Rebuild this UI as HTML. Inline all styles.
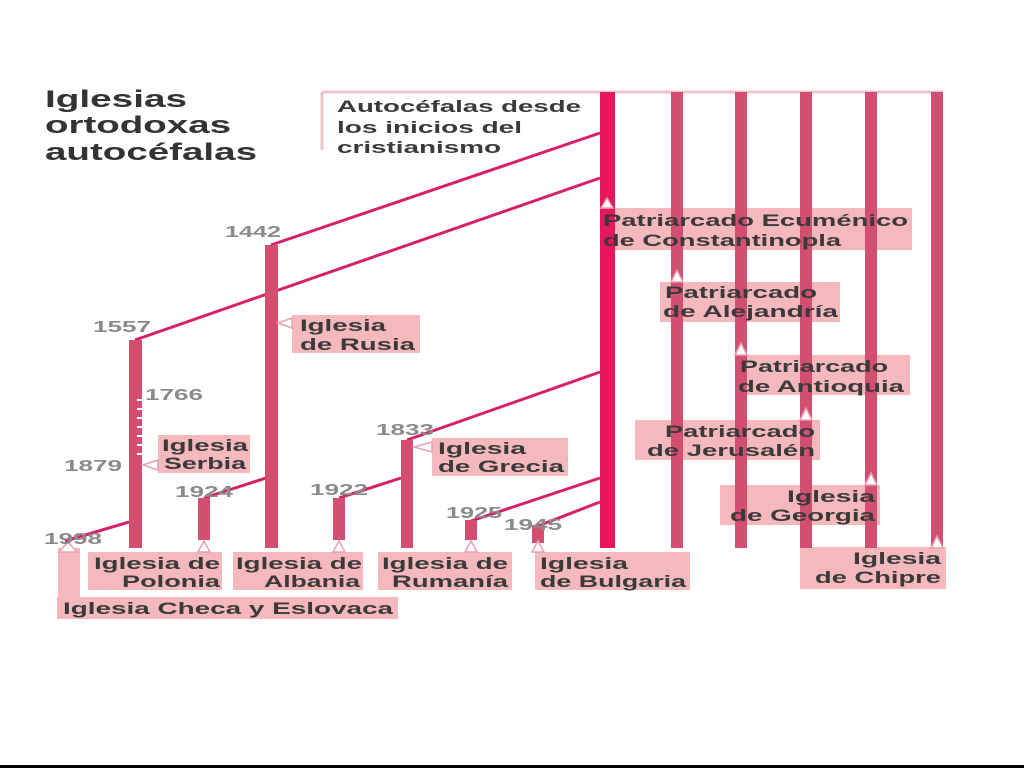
<!DOCTYPE html>
<html><head><meta charset="utf-8"><style>
html,body{margin:0;padding:0;background:#fff;width:1024px;height:768px;overflow:hidden}
svg{display:block}
text{font-family:"Liberation Sans",sans-serif;font-weight:bold}
.t{fill:#3a3a3a;font-size:17px}
.d{fill:#8a8a8a;font-size:16px}
.b{fill:#f5b9bd}
.bar{fill:#d24f72}
.ln{stroke:#d8206a;stroke-width:3;fill:none}
.tri{fill:#fff;stroke:#e7a0b0;stroke-width:1.5}
</style></head><body>
<svg width="1024" height="768" viewBox="0 0 1024 768">
<!-- title -->
<text x="45" y="107" style="font-size:24px" fill="#333" textLength="142" lengthAdjust="spacingAndGlyphs">Iglesias</text>
<text x="45" y="133" style="font-size:24px" fill="#333" textLength="186" lengthAdjust="spacingAndGlyphs">ortodoxas</text>
<text x="45" y="160" style="font-size:24px" fill="#333" textLength="212" lengthAdjust="spacingAndGlyphs">autocéfalas</text>

<!-- top frame -->
<line x1="322" y1="92" x2="943" y2="92" stroke="#f1c4cc" stroke-width="3"/>
<line x1="322" y1="92" x2="322" y2="150" stroke="#f1c4cc" stroke-width="3"/>
<text class="t" x="337" y="112" textLength="244" lengthAdjust="spacingAndGlyphs">Autocéfalas desde</text>
<text class="t" x="337" y="133" textLength="185" lengthAdjust="spacingAndGlyphs">los inicios del</text>
<text class="t" x="337" y="153" textLength="164" lengthAdjust="spacingAndGlyphs">cristianismo</text>

<!-- label boxes -->
<rect class="b" x="600" y="208" width="312" height="42"/>
<rect class="b" x="660" y="282" width="180" height="40"/>
<rect class="b" x="735" y="355" width="175" height="40"/>
<rect class="b" x="635" y="420" width="185" height="40"/>
<rect class="b" x="720" y="485" width="160" height="40"/>
<rect class="b" x="800" y="547" width="146" height="42"/>
<rect class="b" x="292" y="315" width="128" height="38"/>
<rect class="b" x="158" y="435" width="92" height="38"/>
<rect class="b" x="432" y="438" width="136" height="38"/>
<rect class="b" x="88" y="552" width="134" height="38"/>
<rect class="b" x="233" y="552" width="130" height="38"/>
<rect class="b" x="378" y="552" width="134" height="38"/>
<rect class="b" x="535" y="552" width="155" height="38"/>
<rect class="b" x="57" y="597" width="341" height="22"/>
<rect class="b" x="58" y="548" width="22" height="50"/>

<!-- connector lines -->
<line class="ln" x1="135" y1="340" x2="600" y2="178"/>
<line class="ln" x1="271" y1="245" x2="600" y2="133"/>
<line class="ln" x1="407" y1="440" x2="600" y2="372"/>
<line class="ln" x1="471" y1="521" x2="600" y2="478"/>
<line class="ln" x1="538" y1="526" x2="600" y2="502"/>
<line class="ln" x1="204" y1="498" x2="266" y2="478" stroke-width="2.5"/>
<line class="ln" x1="339" y1="498" x2="401" y2="478" stroke-width="2.5"/>
<line class="ln" x1="65" y1="541" x2="129" y2="522" stroke-width="2.5"/>

<!-- bars -->
<rect x="600" y="92" width="15" height="456" fill="#e8175c"/>
<rect class="bar" x="671" y="92" width="12" height="456"/>
<rect class="bar" x="735" y="92" width="12" height="456"/>
<rect class="bar" x="800" y="92" width="12" height="456"/>
<rect class="bar" x="865" y="92" width="12" height="456"/>
<rect class="bar" x="931" y="92" width="12" height="456"/>
<rect class="bar" x="265" y="245" width="13" height="303"/>
<rect class="bar" x="129" y="340" width="13" height="208"/>
<g stroke="#fff" stroke-width="2">
<line x1="137" y1="400" x2="142" y2="400"/><line x1="137" y1="409" x2="142" y2="409"/><line x1="137" y1="418" x2="142" y2="418"/><line x1="137" y1="427" x2="142" y2="427"/><line x1="137" y1="436" x2="142" y2="436"/><line x1="137" y1="445" x2="142" y2="445"/><line x1="137" y1="454" x2="142" y2="454"/>
</g>
<rect class="bar" x="198" y="498" width="12" height="42"/>
<rect class="bar" x="333" y="498" width="12" height="42"/>
<rect class="bar" x="401" y="440" width="12" height="108"/>
<rect class="bar" x="465" y="520" width="12" height="20"/>
<rect class="bar" x="532" y="525" width="12" height="18"/>

<!-- markers -->
<path class="tri" d="M601 208 L607 198 L613 208 Z"/>
<path class="tri" d="M671 282 L677 270 L683 282 Z"/>
<path class="tri" d="M735 355 L741 343 L747 355 Z"/>
<path class="tri" d="M800 420 L806 408 L812 420 Z"/>
<path class="tri" d="M865 485 L871 473 L877 485 Z"/>
<path class="tri" d="M931 548 L937 536 L943 548 Z"/>
<path class="tri" d="M292 318 L278 323 L292 328 Z"/>
<path class="tri" d="M158 460 L143 465 L158 470 Z"/>
<path class="tri" d="M432 442 L414 447 L432 452 Z"/>
<path class="tri" d="M198 552 L204 541 L210 552 Z"/>
<path class="tri" d="M333 552 L339 541 L345 552 Z"/>
<path class="tri" d="M465 552 L471 541 L477 552 Z"/>
<path class="tri" d="M532 552 L538 541 L544 552 Z"/>
<path class="tri" d="M59 552 L68 542 L77 552 Z"/>

<!-- label text -->
<text class="t" x="603" y="226" textLength="305" lengthAdjust="spacingAndGlyphs">Patriarcado Ecuménico</text>
<text class="t" x="603" y="246" textLength="238" lengthAdjust="spacingAndGlyphs">de Constantinopla</text>
<text class="t" x="665" y="298" textLength="152" lengthAdjust="spacingAndGlyphs">Patriarcado</text>
<text class="t" x="663" y="317" textLength="175" lengthAdjust="spacingAndGlyphs">de Alejandría</text>
<text class="t" x="740" y="372" textLength="148" lengthAdjust="spacingAndGlyphs">Patriarcado</text>
<text class="t" x="738" y="392" textLength="166" lengthAdjust="spacingAndGlyphs">de Antioquia</text>
<text class="t" x="665" y="437" textLength="150" lengthAdjust="spacingAndGlyphs">Patriarcado</text>
<text class="t" x="647" y="456" textLength="168" lengthAdjust="spacingAndGlyphs">de Jerusalén</text>
<text class="t" x="787" y="502" textLength="88" lengthAdjust="spacingAndGlyphs">Iglesia</text>
<text class="t" x="730" y="521" textLength="145" lengthAdjust="spacingAndGlyphs">de Georgia</text>
<text class="t" x="853" y="564" textLength="88" lengthAdjust="spacingAndGlyphs">Iglesia</text>
<text class="t" x="815" y="583" textLength="126" lengthAdjust="spacingAndGlyphs">de Chipre</text>
<text class="t" x="300" y="331" textLength="86" lengthAdjust="spacingAndGlyphs">Iglesia</text>
<text class="t" x="300" y="350" textLength="115" lengthAdjust="spacingAndGlyphs">de Rusia</text>
<text class="t" x="162" y="451" textLength="86" lengthAdjust="spacingAndGlyphs">Iglesia</text>
<text class="t" x="164" y="469" textLength="82" lengthAdjust="spacingAndGlyphs">Serbia</text>
<text class="t" x="438" y="454" textLength="88" lengthAdjust="spacingAndGlyphs">Iglesia</text>
<text class="t" x="438" y="472" textLength="126" lengthAdjust="spacingAndGlyphs">de Grecia</text>
<text class="t" x="94" y="569" textLength="126" lengthAdjust="spacingAndGlyphs">Iglesia de</text>
<text class="t" x="122" y="587" textLength="98" lengthAdjust="spacingAndGlyphs">Polonia</text>
<text class="t" x="236" y="569" textLength="126" lengthAdjust="spacingAndGlyphs">Iglesia de</text>
<text class="t" x="264" y="587" textLength="96" lengthAdjust="spacingAndGlyphs">Albania</text>
<text class="t" x="382" y="569" textLength="126" lengthAdjust="spacingAndGlyphs">Iglesia de</text>
<text class="t" x="392" y="587" textLength="116" lengthAdjust="spacingAndGlyphs">Rumanía</text>
<text class="t" x="540" y="569" textLength="88" lengthAdjust="spacingAndGlyphs">Iglesia</text>
<text class="t" x="540" y="587" textLength="146" lengthAdjust="spacingAndGlyphs">de Bulgaria</text>
<text class="t" x="63" y="614" textLength="330" lengthAdjust="spacingAndGlyphs">Iglesia Checa y Eslovaca</text>

<!-- dates -->
<text class="d" x="225" y="237" textLength="56" lengthAdjust="spacingAndGlyphs">1442</text>
<text class="d" x="93" y="332" textLength="58" lengthAdjust="spacingAndGlyphs" fill="#a0a0a0">1557</text>
<text class="d" x="145" y="400" textLength="58" lengthAdjust="spacingAndGlyphs" fill="#a0a0a0">1766</text>
<text class="d" x="64" y="471" textLength="58" lengthAdjust="spacingAndGlyphs">1879</text>
<text class="d" x="175" y="497" textLength="58" lengthAdjust="spacingAndGlyphs">1924</text>
<text class="d" x="310" y="495" textLength="58" lengthAdjust="spacingAndGlyphs">1922</text>
<text class="d" x="376" y="435" textLength="58" lengthAdjust="spacingAndGlyphs">1833</text>
<text class="d" x="44" y="544" textLength="58" lengthAdjust="spacingAndGlyphs">1998</text>
<text class="d" x="446" y="518" textLength="56" lengthAdjust="spacingAndGlyphs">1925</text>
<text class="d" x="504" y="530" textLength="58" lengthAdjust="spacingAndGlyphs">1945</text>

<rect x="0" y="765" width="1024" height="3" fill="#000"/>
</svg>
</body></html>
